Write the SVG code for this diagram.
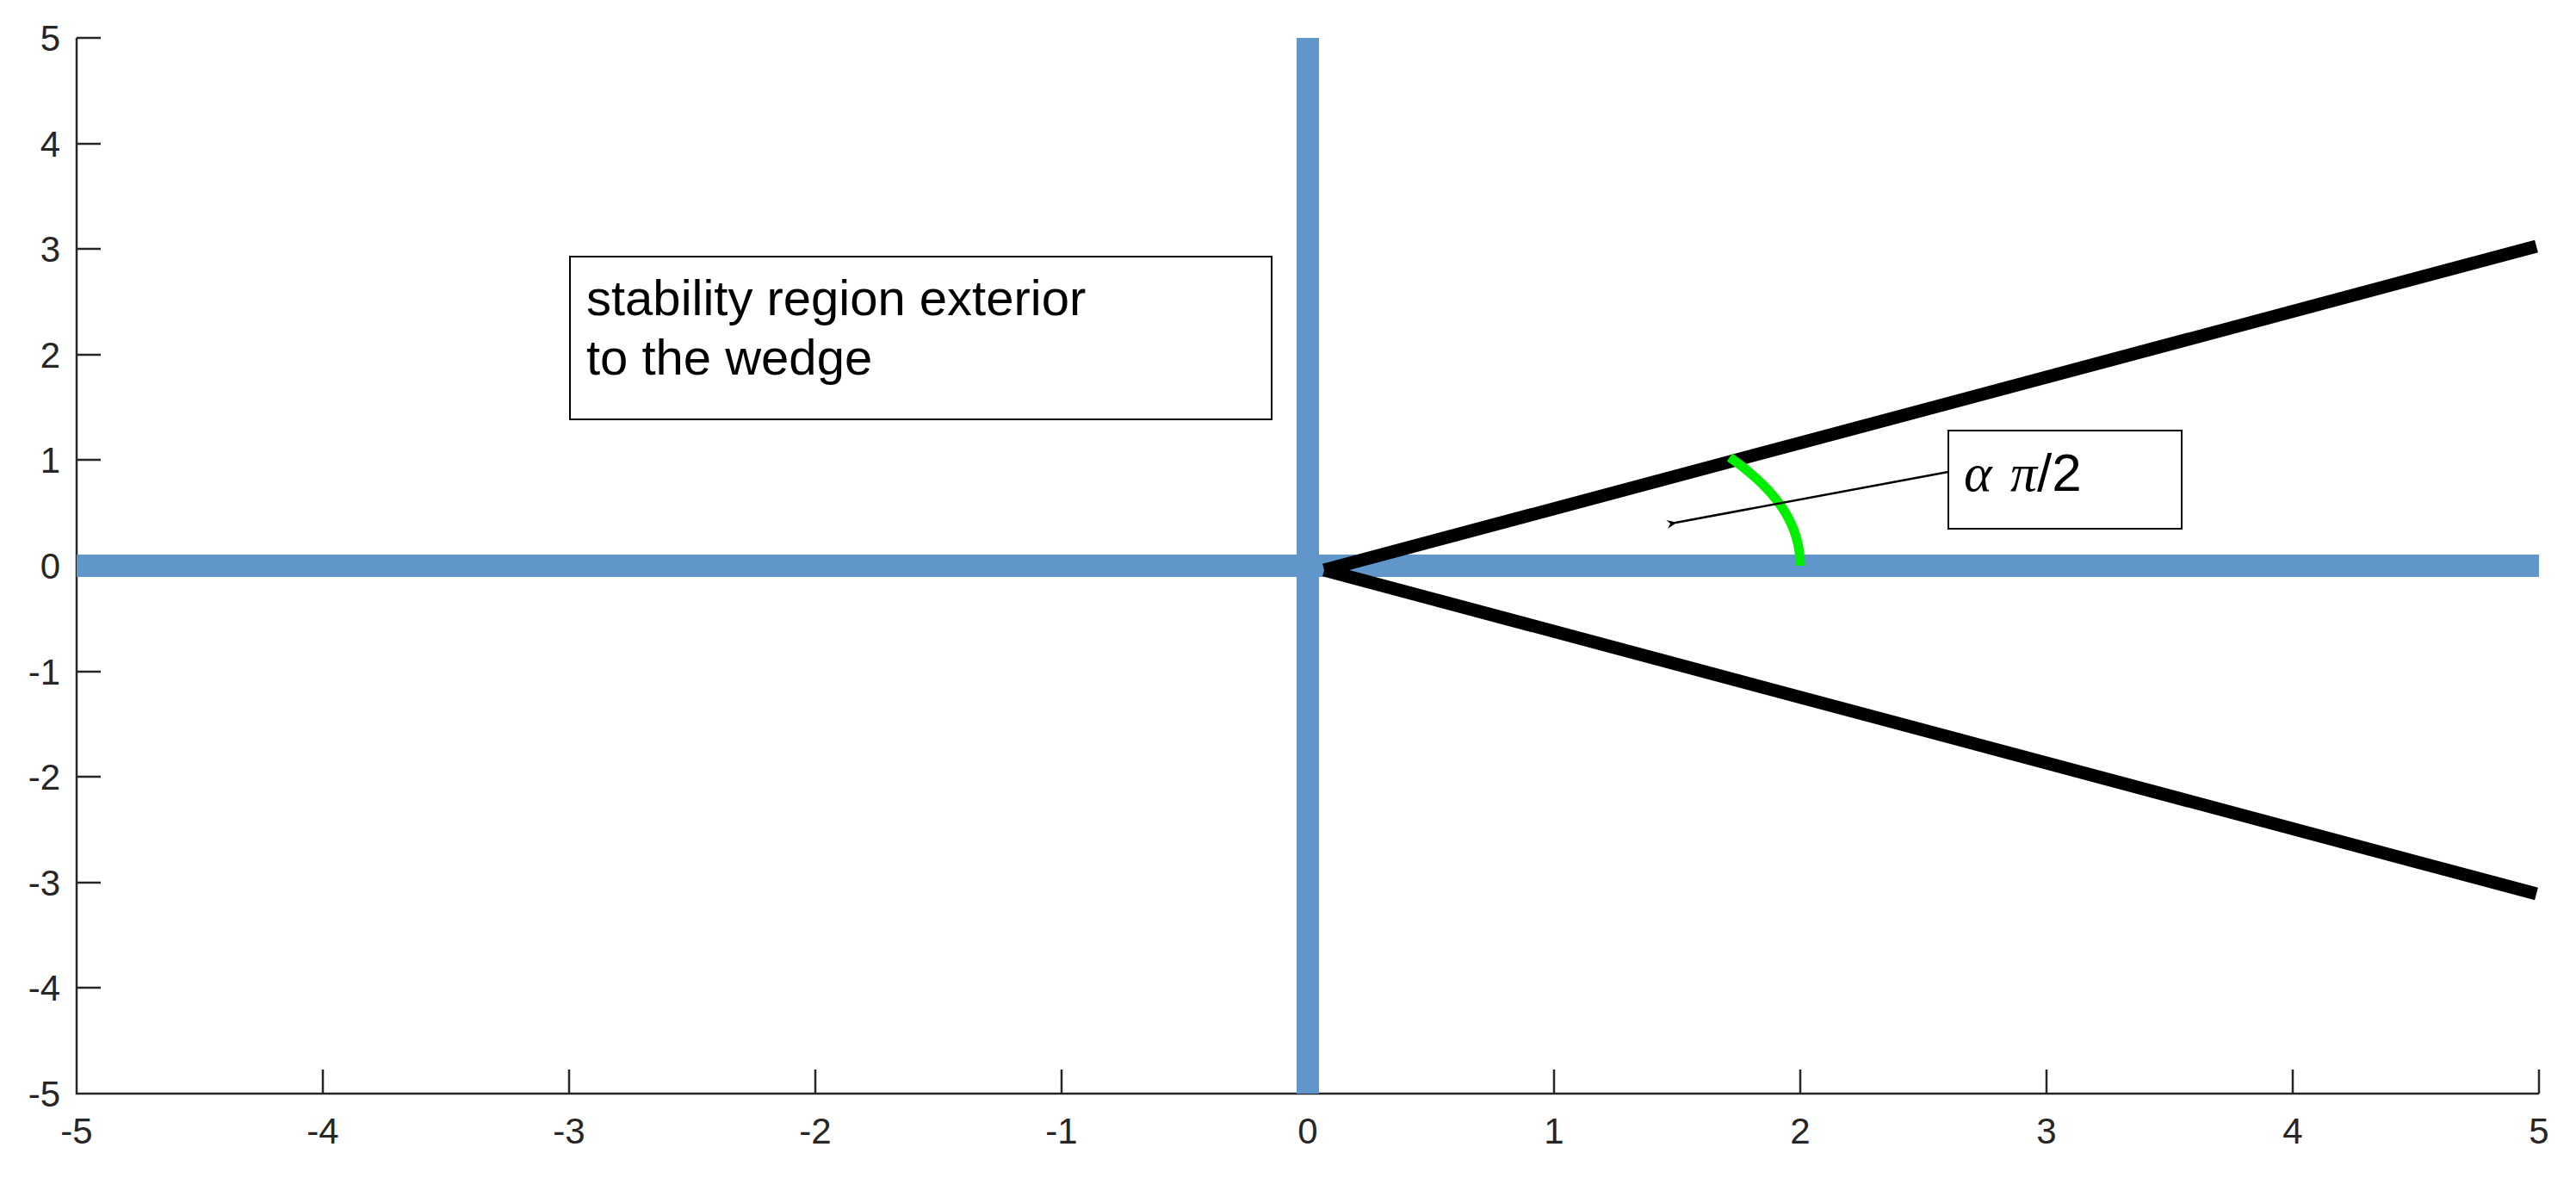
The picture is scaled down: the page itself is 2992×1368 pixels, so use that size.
<svg xmlns="http://www.w3.org/2000/svg" width="2992" height="1368" viewBox="0 0 2992 1368">
<style>
.ax{stroke:#262626;stroke-width:2.5;fill:none}
.tl{font-family:"Liberation Sans",Arial,sans-serif;font-size:42px;fill:#262626}
.lbl{font-family:"Liberation Sans",Arial,sans-serif;font-size:58px;fill:#000}
.box{fill:#fff;stroke:#000;stroke-width:2}
</style>
<defs><marker id="ah" markerWidth="12" markerHeight="10" refX="2" refY="5" orient="auto" markerUnits="userSpaceOnUse" viewBox="0 0 12 10"><path d="M12,0 L0,5 L12,10 L8,5 Z" fill="#000"/></marker></defs>
<rect width="2992" height="1368" fill="#fff"/>
<g id="axes">
<path class="ax" d="M89,44 V1270 H2949"/>
<path class="ax" d="M89,44h28M89,167h28M89,289h28M89,412h28M89,534h28M89,657h28M89,780h28M89,902h28M89,1025h28M89,1147h28"/>
<path class="ax" d="M375,1270v-28M661,1270v-28M947,1270v-28M1233,1270v-28M1519,1270v-28M1805,1270v-28M2091,1270v-28M2377,1270v-28M2663,1270v-28M2949,1270v-28"/>
<g class="tl" text-anchor="end">
<text x="70" y="59">5</text><text x="70" y="182">4</text><text x="70" y="304">3</text><text x="70" y="427">2</text><text x="70" y="549">1</text><text x="70" y="672">0</text><text x="70" y="795">-1</text><text x="70" y="917">-2</text><text x="70" y="1040">-3</text><text x="70" y="1162">-4</text><text x="70" y="1285">-5</text>
</g>
<g class="tl" text-anchor="middle">
<text x="89" y="1328">-5</text><text x="375" y="1328">-4</text><text x="661" y="1328">-3</text><text x="947" y="1328">-2</text><text x="1233" y="1328">-1</text><text x="1519" y="1328">0</text><text x="1805" y="1328">1</text><text x="2091" y="1328">2</text><text x="2377" y="1328">3</text><text x="2663" y="1328">4</text><text x="2949" y="1328">5</text>
</g>
</g>
<g id="imag-axis"><line x1="1519" y1="44" x2="1519" y2="1270" stroke="#6096c9" stroke-width="26"/></g>
<g id="real-axis"><line x1="89" y1="657" x2="2949" y2="657" stroke="#6096c9" stroke-width="26"/></g>
<g id="wedge" stroke="#000" stroke-width="15" fill="none">
<line x1="1538" y1="662" x2="2946" y2="286"/>
<line x1="1538" y1="662" x2="2946" y2="1038"/>
</g>
<g id="arc"><path d="M2091,657 C2091,610 2065,570 2009,531" stroke="#00ee00" stroke-width="11" fill="none"/></g>
<g id="connectors"><line x1="2263" y1="548" x2="1946" y2="607" stroke="#000" stroke-width="2.5" marker-end="url(#ah)"/></g>
<g id="alpha-label">
<rect class="box" x="2263" y="500" width="271" height="114"/>
<text x="2281" y="570" font-family="Liberation Serif,serif" font-style="italic" font-size="62">α</text>
<text x="2335" y="570" font-family="Liberation Serif,serif" font-style="italic" font-size="62">π<tspan font-family="Liberation Sans,sans-serif" font-style="normal">/2</tspan></text>
</g>
<g id="stability-label">
<rect class="box" x="662" y="298" width="815" height="189"/>
<text class="lbl" x="681" y="366">stability region exterior</text>
<text class="lbl" x="681" y="435">to the wedge</text>
</g>
</svg>
